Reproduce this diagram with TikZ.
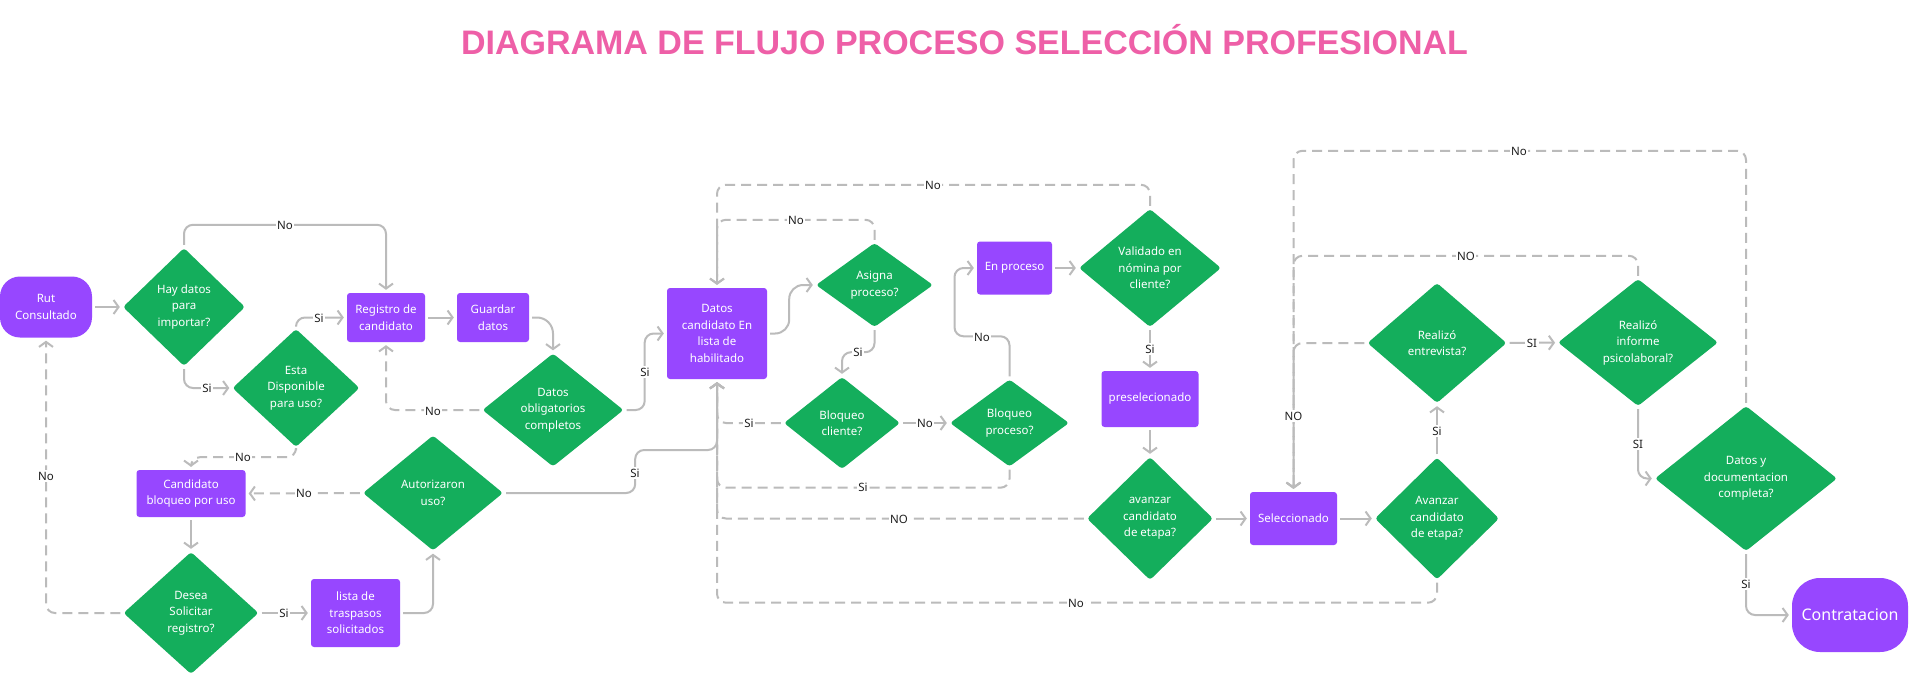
\documentclass[tikz,border=0pt]{standalone}
\usepackage{fontspec}
\setmainfont{Noto Sans}
\newfontfamily\titlefont{Liberation Sans}
\usepackage{tikz}
\usetikzlibrary{shapes.geometric,arrows.meta}

\definecolor{morado}{HTML}{9747FF}
\definecolor{verde}{HTML}{14AE5C}
\definecolor{gris}{HTML}{BBBBBB}
\definecolor{rosa}{HTML}{EE5FA7}
\definecolor{texto}{HTML}{1E1E1E}

\begin{document}
\begin{tikzpicture}[x=1pt,y=-1pt,
    caja/.style={rectangle,rounded corners=3pt,fill=morado,text=white,align=center,
      inner sep=0pt,font=\fontsize{11.5}{16.5}\selectfont},
    inicio/.style={caja,rounded corners=20pt},
    rombo/.style={diamond,shape aspect=1.25,rounded corners=3pt,fill=verde,text=white,
      align=center,inner sep=0pt,font=\fontsize{11.5}{16.5}\selectfont},
    flecha/.style={draw=gris,line width=2pt,rounded corners=9pt,shorten >=3pt,shorten <=3pt,
      -{Straight Barb[length=5pt,width=14pt]}},
    retorno/.style={flecha,dash pattern=on 10pt off 6pt},
    etiq/.style={fill=white,inner sep=1.5pt,text=texto,font=\fontsize{11.5}{14}\selectfont}]

  \path[use as bounding box,fill=white] (0,0) rectangle (1920,674);

  \node[anchor=base,text=rosa,font=\titlefont\bfseries\fontsize{34}{34}\selectfont] (titulo) at (964.5,55)
    {DIAGRAMA DE FLUJO PROCESO SELECCIÓN PROFESIONAL};

  \node[inicio,minimum width=92pt,minimum height=61pt] (rut) at (46,307) {Rut\\Consultado};
  \node[rombo,minimum width=122pt,minimum height=118pt] (hay) at (184,307) {Hay datos\\para\\importar?};
  \node[rombo,minimum width=127pt,minimum height=118pt] (esta) at (296,388) {Esta\\Disponible\\para uso?};
  \node[caja,minimum width=78pt,minimum height=49pt] (reg) at (386,317.5) {Registro de\\candidato};
  \node[caja,minimum width=72pt,minimum height=49pt] (guard) at (493,317.5) {Guardar\\datos};
  \node[rombo,minimum width=141pt,minimum height=113pt] (oblig) at (553,410) {Datos\\obligatorios\\completos};
  \node[caja,minimum width=109pt,minimum height=47pt] (cbloq) at (191,493.5) {Candidato\\bloqueo por uso};
  \node[rombo,minimum width=140pt,minimum height=115pt] (autor) at (433,493) {Autorizaron\\uso?};
  \node[rombo,minimum width=135pt,minimum height=122pt] (desea) at (191,613) {Desea\\Solicitar\\registro?};
  \node[caja,minimum width=89pt,minimum height=68pt] (lista) at (355.5,613) {lista de\\traspasos\\solicitados};

  \node[caja,minimum width=100pt,minimum height=91pt] (dcand) at (717,333.5) {Datos\\candidato En\\lista de\\habilitado};
  \node[rombo,minimum width=117pt,minimum height=84pt] (asigna) at (874.5,285) {Asigna\\proceso?};
  \node[rombo,minimum width=116pt,minimum height=92pt] (bcli) at (842,423) {Bloqueo\\cliente?};
  \node[rombo,minimum width=119pt,minimum height=87pt] (bproc) at (1009.5,423) {Bloqueo\\proceso?};
  \node[caja,minimum width=75pt,minimum height=53pt] (enproc) at (1014.5,268) {En proceso};
  \node[rombo,minimum width=142pt,minimum height=118pt] (valid) at (1150,268) {Validado en\\nómina por\\cliente?};
  \node[caja,minimum width=97pt,minimum height=56pt] (presel) at (1150,399) {preselecionado};
  \node[rombo,minimum width=126pt,minimum height=123pt] (avz1) at (1150,518.5) {avanzar\\candidato\\de etapa?};
  \node[caja,minimum width=87pt,minimum height=53pt] (selec) at (1293.5,518.5) {Seleccionado};
  \node[rombo,minimum width=124pt,minimum height=122pt] (avz2) at (1437,518.5) {Avanzar\\candidato\\de etapa?};
  \node[rombo,minimum width=139pt,minimum height=120pt] (entrev) at (1437,343) {Realizó\\entrevista?};
  \node[rombo,minimum width=160pt,minimum height=127pt] (psico) at (1638,342.5) {Realizó\\informe\\psicolaboral?};
  \node[rombo,minimum width=182pt,minimum height=145pt] (docs) at (1746,478.5) {Datos y\\documentacion\\completa?};
  \node[inicio,rounded corners=28pt,minimum width=116pt,minimum height=74pt,
    font=\fontsize{16}{20}\selectfont] (contr) at (1850,615) {Contratacion};

  \path[flecha] (rut) -- (hay);
  \path[flecha] (hay.north) -- ++(0,-23) -| (reg.north);
  \path[flecha] (hay.south) |- (esta.west);
  \path[flecha] (esta.north) |- (reg.west);
  \path[flecha] (reg) -- (guard);
  \path[flecha,rounded corners=16pt] (guard.east) -| (oblig.north);
  \path[retorno] (oblig.west) -| (reg.south);
  \path[flecha] (oblig.east) -- ++(21,0) |- (dcand.west);
  \path[retorno] (esta.south) -- ++(0,10) -| (cbloq.north);
  \path[retorno] (autor.west) -- (cbloq.east);
  \path[flecha] (cbloq) -- (desea);
  \path[retorno] (desea.west) -| (rut.south);
  \path[flecha] (desea.east) -- (lista.west);
  \path[flecha] (lista.east) -| (autor.south);
  \path[flecha] (autor.east) -- ++(132,0) -- ++(0,-43) -| (dcand.south);

  \path[flecha,rounded corners=14pt] (dcand.east) -- ++(22,0) |- (asigna.west);
  \path[retorno] (asigna.north) -- ++(0,-23) -| (dcand.north);
  \path[retorno] (valid.north) -- ++(0,-24) -| (dcand.north);
  \path[flecha] (asigna.south) -- ++(0,25) -| (bcli.north);
  \path[retorno] (bcli.west) -| (dcand.south);
  \path[flecha] (bcli) -- (bproc);
  \path[flecha] (bproc.north) |- ++(-55,-43) |- (enproc.west);
  \path[retorno] (bproc.south) -- ++(0,21) -| (dcand.south);
  \path[flecha] (enproc) -- (valid);
  \path[flecha] (valid) -- (presel);
  \path[flecha] (presel) -- (avz1);
  \path[retorno] (avz1.west) -| (dcand.south);
  \path[flecha] (avz1) -- (selec);
  \path[flecha] (selec) -- (avz2);
  \path[flecha] (avz2) -- (entrev);
  \path[retorno] (avz2.south) -- ++(0,23) -| (dcand.south);
  \path[retorno] (entrev.west) -| (selec.north);
  \path[flecha] (entrev) -- (psico);
  \path[retorno] (psico.north) -- ++(0,-23) -| (selec.north);
  \path[retorno] (docs.north) -- ++(0,-255) -| (selec.north);
  \path[flecha] (psico.south) |- (docs.west);
  \path[flecha] (docs.south) |- (contr.west);

  \node[etiq] (l1) at (285,225) {No};
  \node[etiq] (l2) at (207,388) {Si};
  \node[etiq] (l3) at (319,318) {Si};
  \node[etiq] (l4) at (433,411) {No};
  \node[etiq] (l5) at (645,372) {Si};
  \node[etiq] (l6) at (243,457) {No};
  \node[etiq] (l7) at (304,493) {No};
  \node[etiq] (l8) at (46,476) {No};
  \node[etiq] (l9) at (284,613) {Si};
  \node[etiq] (l10) at (635,473) {Si};
  \node[etiq] (l11) at (796,220) {No};
  \node[etiq] (l12) at (933,185) {No};
  \node[etiq] (l13) at (858,352) {Si};
  \node[etiq] (l14) at (749,423) {Si};
  \node[etiq] (l15) at (925,423) {No};
  \node[etiq] (l16) at (982,337) {No};
  \node[etiq] (l17) at (863,487) {Si};
  \node[etiq] (l18) at (1150,349) {Si};
  \node[etiq] (l19) at (899,519) {NO};
  \node[etiq] (l20) at (1437,431) {Si};
  \node[etiq] (l21) at (1076,603) {No};
  \node[etiq] (l22) at (1293.5,416) {NO};
  \node[etiq] (l23) at (1532,343) {SI};
  \node[etiq] (l24) at (1466,256) {NO};
  \node[etiq] (l25) at (1519,151) {No};
  \node[etiq] (l26) at (1638,444) {SI};
  \node[etiq] (l27) at (1746,584) {Si};
\end{tikzpicture}
\end{document}
